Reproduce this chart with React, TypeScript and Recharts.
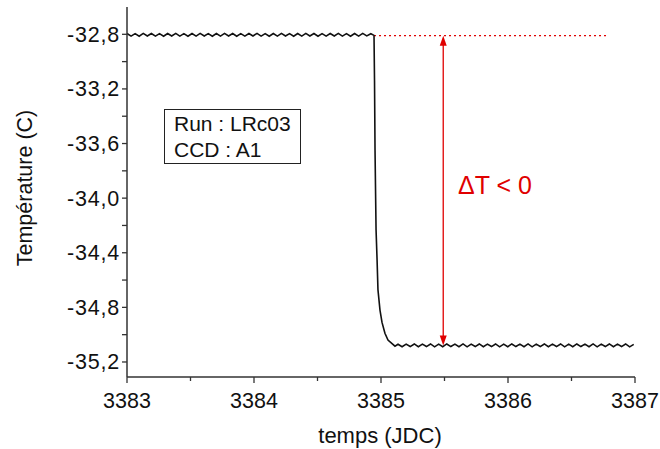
import { LineChart, Line, XAxis, YAxis, ReferenceLine } from 'recharts';

// plateau before the step (temps JDC, temperature C)
const plateauHigh: [number, number][] = [
  [3383.000, -32.794], [3383.032, -32.813], [3383.064, -32.795], [3383.096, -32.814], [3383.128, -32.793],
  [3383.160, -32.812], [3383.192, -32.794], [3383.224, -32.813], [3383.256, -32.795], [3383.288, -32.814],
  [3383.320, -32.794], [3383.352, -32.812], [3383.384, -32.793], [3383.416, -32.813], [3383.448, -32.795],
  [3383.480, -32.814], [3383.512, -32.794], [3383.544, -32.813], [3383.576, -32.793], [3383.608, -32.812],
  [3383.640, -32.795], [3383.672, -32.814], [3383.704, -32.794], [3383.736, -32.813], [3383.768, -32.793],
  [3383.800, -32.812], [3383.832, -32.794], [3383.864, -32.814], [3383.896, -32.795], [3383.928, -32.813],
  [3383.960, -32.794], [3383.992, -32.812], [3384.024, -32.793], [3384.056, -32.813], [3384.088, -32.795],
  [3384.120, -32.814], [3384.152, -32.794], [3384.184, -32.813], [3384.216, -32.793], [3384.248, -32.812],
  [3384.280, -32.795], [3384.312, -32.814], [3384.344, -32.794], [3384.376, -32.813], [3384.408, -32.793],
  [3384.440, -32.812], [3384.472, -32.794], [3384.504, -32.814], [3384.536, -32.795], [3384.568, -32.813],
  [3384.600, -32.794], [3384.632, -32.812], [3384.664, -32.793], [3384.696, -32.813], [3384.728, -32.795],
  [3384.760, -32.814], [3384.792, -32.794], [3384.824, -32.813], [3384.856, -32.793], [3384.888, -32.812],
  [3384.920, -32.796],
];

// the drop
const drop: [number, number][] = [
  [3384.945, -32.808], [3384.949, -33.14], [3384.953, -33.65], [3384.961, -34.23], [3384.969, -34.45],
  [3384.976, -34.67], [3384.992, -34.82], [3385.008, -34.91], [3385.031, -34.99], [3385.055, -35.04],
  [3385.087, -35.066], [3385.110, -35.084],
];

// plateau after the step
const plateauLow: [number, number][] = [
  [3385.134, -35.070], [3385.166, -35.088], [3385.198, -35.069], [3385.230, -35.087], [3385.262, -35.068],
  [3385.294, -35.088], [3385.326, -35.069], [3385.358, -35.087], [3385.390, -35.068], [3385.422, -35.089],
  [3385.454, -35.069], [3385.486, -35.088], [3385.518, -35.068], [3385.550, -35.087], [3385.582, -35.069],
  [3385.614, -35.088], [3385.646, -35.068], [3385.678, -35.089], [3385.710, -35.069], [3385.742, -35.087],
  [3385.774, -35.068], [3385.806, -35.088], [3385.838, -35.069], [3385.870, -35.087], [3385.902, -35.068],
  [3385.934, -35.089], [3385.966, -35.069], [3385.998, -35.088], [3386.030, -35.068], [3386.062, -35.087],
  [3386.094, -35.069], [3386.126, -35.088], [3386.158, -35.068], [3386.190, -35.089], [3386.222, -35.069],
  [3386.254, -35.087], [3386.286, -35.068], [3386.318, -35.088], [3386.350, -35.069], [3386.382, -35.087],
  [3386.414, -35.068], [3386.446, -35.089], [3386.478, -35.069], [3386.510, -35.088], [3386.542, -35.068],
  [3386.574, -35.087], [3386.606, -35.069], [3386.638, -35.088], [3386.670, -35.068], [3386.702, -35.089],
  [3386.734, -35.069], [3386.766, -35.087], [3386.798, -35.068], [3386.830, -35.088], [3386.862, -35.069],
  [3386.894, -35.087], [3386.926, -35.068], [3386.958, -35.089], [3386.990, -35.071],
];

const xTicks = [3383, 3383.5, 3384, 3384.5, 3385, 3385.5, 3386, 3386.5, 3387];
const xMajor = [3383, 3384, 3385, 3386, 3387];
const yTicks = [-35.2, -35.0, -34.8, -34.6, -34.4, -34.2, -34.0, -33.8, -33.6, -33.4, -33.2, -33.0, -32.8];
const yMajor = [-35.2, -34.8, -34.4, -34.0, -33.6, -33.2, -32.8];

// annotation
const topLevel = -32.81;
const lowLevel = -35.08;
const dashStart = 3384.945;
const dashEnd = 3386.78;
const arrowT = 3385.49;

const data = [...plateauHigh, ...drop, ...plateauLow].map(([t, v]) => ({ t, v }));

const FONT = '"Liberation Sans", Arial, sans-serif';
const AXIS = '#333';

const XTick = (props: any) => {
  const { x, y, payload } = props;
  const major = xMajor.includes(payload.value);
  return (
    <g>
      <line x1={x} x2={x} y1={y} y2={y + (major ? 6 : 4)} stroke={AXIS} strokeWidth={1.3} />
      {major && (
        <text x={x} y={y + 31} textAnchor="middle" fontSize={21.5} fill="#111" fontFamily={FONT}>
          {payload.value}
        </text>
      )}
    </g>
  );
};

const YTick = (props: any) => {
  const { x, y, payload } = props;
  const major = yMajor.includes(payload.value);
  return (
    <g>
      <line x1={x - 5} x2={x} y1={y} y2={y} stroke={AXIS} strokeWidth={1.3} />
      {major && (
        <text x={x - 7} y={y + 7.5} textAnchor="end" fontSize={21.5} letterSpacing={0.8} fill="#111" fontFamily={FONT}>
          {payload.value.toFixed(1).replace('.', ',')}
        </text>
      )}
    </g>
  );
};

const ArrowShape = (props: any) => {
  const { x1, y1, x2, y2 } = props;
  const top = Math.min(y1, y2);
  const bot = Math.max(y1, y2);
  return (
    <g>
      <line x1={x1} x2={x2} y1={top + 6} y2={bot - 6} stroke="#e00000" strokeWidth={1.3} />
      <polygon points={`${x1},${top} ${x1 - 3.5},${top + 10} ${x1 + 3.5},${top + 10}`} fill="#e00000" />
      <polygon points={`${x1},${bot} ${x1 - 3.5},${bot - 10} ${x1 + 3.5},${bot - 10}`} fill="#e00000" />
    </g>
  );
};

export default function App() {
  return (
    <div style={{ position: 'absolute', left: 0, top: 0, width: 660, height: 449, background: '#fff', fontFamily: FONT }}>
      <LineChart width={660} height={449} data={data} margin={{ top: 7, right: 25, left: 0, bottom: 0 }}>
        <XAxis
          dataKey="t"
          type="number"
          domain={[3383, 3387]}
          ticks={xTicks}
          interval={0}
          height={72}
          tickLine={false}
          tickSize={0}
          tickMargin={0}
          tick={<XTick />}
          stroke={AXIS}
          strokeWidth={1.5}
          allowDataOverflow
        />
        <YAxis
          dataKey="v"
          type="number"
          domain={[-35.31, -32.6]}
          ticks={yTicks}
          interval={0}
          width={127}
          tickLine={false}
          tickSize={0}
          tickMargin={0}
          tick={<YTick />}
          stroke={AXIS}
          strokeWidth={1.5}
          allowDataOverflow
        />
        <ReferenceLine
          segment={[{ x: dashStart, y: topLevel }, { x: dashEnd, y: topLevel }]}
          stroke="#e00000"
          strokeWidth={1.2}
          strokeDasharray="2 3"
        />
        <ReferenceLine
          segment={[{ x: arrowT, y: topLevel }, { x: arrowT, y: lowLevel }]}
          shape={ArrowShape}
        />
        <Line type="linear" dataKey="v" stroke="#111" strokeWidth={1.6} dot={false} isAnimationActive={false} />
      </LineChart>

      <div style={{ position: 'absolute', left: 164, top: 109, width: 135, height: 53, border: '1px solid #222', boxSizing: 'content-box' }}>
        <div style={{ position: 'absolute', left: 9, top: 1, fontSize: 21, lineHeight: '26px', color: '#111', whiteSpace: 'nowrap' }}>
          Run : LRc03
          <br />
          CCD : A1
        </div>
      </div>

      <div style={{ position: 'absolute', left: 458, top: 171, fontSize: 25, color: '#e00000', whiteSpace: 'nowrap', lineHeight: '28px' }}>
        ΔT &lt; 0
      </div>

      <div style={{ position: 'absolute', left: 380, top: 436, transform: 'translate(-50%, -50%)', fontSize: 22, color: '#111', whiteSpace: 'nowrap' }}>
        temps (JDC)
      </div>

      <div style={{ position: 'absolute', left: 25, top: 188, transform: 'translate(-50%, -50%) rotate(-90deg)', fontSize: 21.5, color: '#111', whiteSpace: 'nowrap' }}>
        Température (C)
      </div>
    </div>
  );
}
